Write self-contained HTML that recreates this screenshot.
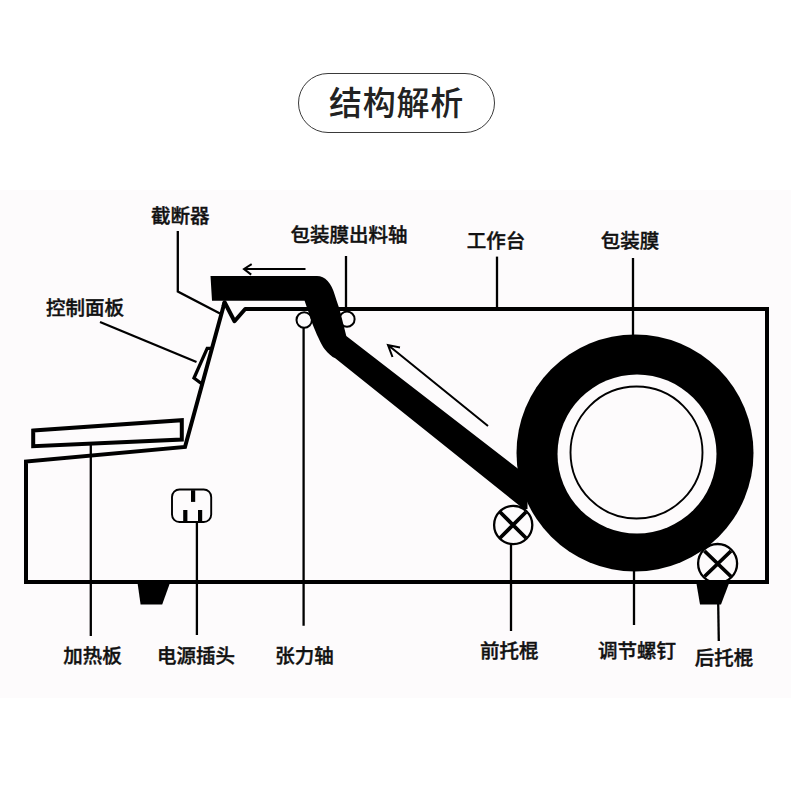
<!DOCTYPE html>
<html lang="zh-CN">
<head>
<meta charset="utf-8">
<title>结构解析</title>
<style>
html,body{margin:0;padding:0;background:#fff;}
body{width:800px;height:800px;overflow:hidden;position:relative;font-family:"Liberation Sans","Noto Sans CJK SC",sans-serif;}
#panel{position:absolute;left:0;top:190px;width:791px;height:508px;background:#fdfbfc;}
#title{position:absolute;left:298px;top:73px;width:195px;height:58px;border:1px solid #3a3a3a;border-radius:30px;
  text-align:center;line-height:59px;font-size:33px;color:#222;letter-spacing:0.8px;font-weight:500;}
svg{position:absolute;left:0;top:0;}
.lb{font-family:"Liberation Sans","Noto Sans CJK SC",sans-serif;font-size:19.5px;font-weight:500;fill:#111;stroke:#111;stroke-width:0.4px;text-anchor:middle;}
</style>
</head>
<body>
<div id="panel"></div>
<div id="title">结构解析</div>
<svg width="800" height="800" viewBox="0 0 800 800">
  <!-- feet -->
  <path d="M137.4 582 L170.3 582 L162.2 604.6 L140.6 604.6 Z" fill="#000"/>
  <path d="M696.2 582 L729.5 582 L721 604.6 L700 604.6 Z" fill="#000"/>
  <g fill="#fdfbfc" stroke="#000" stroke-width="2">
    <circle cx="304.2" cy="320" r="7.7"/>
    <circle cx="347" cy="319.2" r="7.6"/>
  </g>
  <!-- film band -->
  <path d="M210.5 276 L317 276 C 325 276, 331.5 283, 334.8 295 C 337 302, 339 307, 340 311 L346.3 335.9 L520 470.2 L527.5 476 L527.5 509 L524 509.2 L335.25 358.2 C 332 357, 328 353.5, 324.75 349.25 C 321 344, 316 333, 312.5 323.9 L304.6 300.7 L212 300.7 Z" fill="#000"/>
  <circle cx="513.2" cy="525" r="19.1" fill="#fdfbfc" stroke="#000" stroke-width="2.3"/>
  <!-- roll -->
  <circle cx="635" cy="453" r="118.5" fill="#000"/>
  <circle cx="637" cy="454" r="79.5" fill="#fdfbfc"/>
  <circle cx="636.5" cy="452.5" r="66" fill="none" stroke="#000" stroke-width="1.9"/>
  <!-- rollers -->
  <g fill="#fdfbfc" stroke="#000" stroke-width="2">
    <circle cx="717.6" cy="563.5" r="19.5" stroke-width="2.3"/>
  </g>
  <g stroke="#000" stroke-width="3.8">
    <path d="M500 512 L526 538 M526 512 L500 538"/>
    <path d="M704.5 551 L731 576.5 M731 551 L704.5 576.5"/>
  </g>
  <!-- body outline -->
  <g fill="none" stroke="#000" stroke-width="4" stroke-linejoin="miter" stroke-linecap="butt">
    <path d="M224.6 302.3 L185 447 L26 461.5 L26 582 L767 582 L767 309 L245.2 309"/>
    <path d="M250 309 L245.2 309 L234.5 321.2 L224.6 302.3 L223.5 306.3" stroke-linejoin="round"/>
    <path d="M33.2 430.6 L181.8 420.2 L181.8 439.6 L33.2 446.2 Z"/>
    <path d="M211 348.3 L207.2 348.3 L194 378 L203 384.8" stroke-width="3.3"/>
  </g>
  <!-- socket -->
  <rect x="172" y="489.5" width="39.2" height="32.5" rx="7.5" ry="7.5" fill="none" stroke="#000" stroke-width="1.9"/>
  <g fill="#000">
    <rect x="191" y="490.2" width="4.2" height="11.7"/>
    <rect x="183.2" y="510" width="4.2" height="11.5"/>
    <rect x="198" y="510" width="4.2" height="11.5"/>
  </g>
  <!-- leader lines -->
  <g fill="none" stroke="#000" stroke-width="2.3">
    <path d="M177.8 231 L177.8 291.5 L220 313.5"/>
    <path d="M346 256 L346 311"/>
    <path d="M497 256.6 L497 309"/>
    <path d="M633 258 L633 335"/>
    <path d="M100 322 L196.5 362"/>
    <path d="M90.8 443 L90.8 636"/>
    <path d="M196.9 522 L196.9 635"/>
    <path d="M303.6 328 L303.6 625.8"/>
    <path d="M511 544 L511 631"/>
    <path d="M634 571 L634 625"/>
    <path d="M718.2 604 L718.8 641"/>
  </g>
  <!-- arrows -->
  <g fill="none" stroke="#000" stroke-width="2">
    <path d="M305.5 269 L244.5 269 M251.7 264.2 L244 269 L251.2 274.6"/>
    <path d="M488 426 L388 345 M400 347.5 L388 345 L392.5 357"/>
  </g>
  <!-- labels -->
  <text class="lb" x="180.3" y="223.2">截断器</text>
  <text class="lb" x="349" y="242.4">包装膜出料轴</text>
  <text class="lb" x="496" y="248">工作台</text>
  <text class="lb" x="630" y="248">包装膜</text>
  <text class="lb" x="85" y="314.7">控制面板</text>
  <text class="lb" x="92.5" y="663">加热板</text>
  <text class="lb" x="196" y="663">电源插头</text>
  <text class="lb" x="304.5" y="662.6">张力轴</text>
  <text class="lb" x="509.3" y="657.5">前托棍</text>
  <text class="lb" x="637" y="657.9">调节螺钉</text>
  <text class="lb" x="724" y="665">后托棍</text>
</svg>
</body>
</html>
